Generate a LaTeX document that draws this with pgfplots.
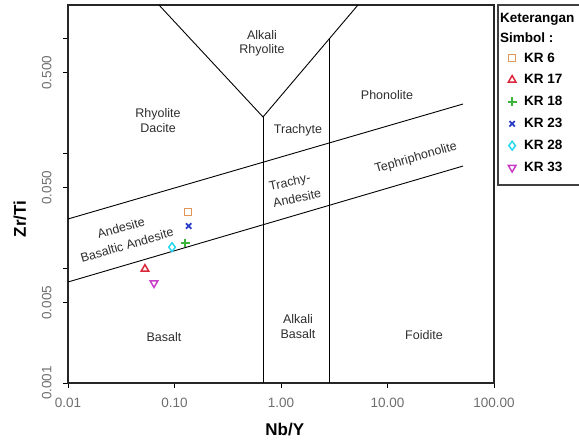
\documentclass[border=0pt]{standalone}
\usepackage{fontspec}
\setmainfont{Liberation Sans}
\usepackage{pgfplots}
\pgfplotsset{compat=1.18}
\definecolor{cKRa}{RGB}{222,150,90}
\definecolor{cKRb}{RGB}{220,40,60}
\definecolor{cKRc}{RGB}{60,180,60}
\definecolor{cKRd}{RGB}{40,60,200}
\definecolor{cKRe}{RGB}{40,215,240}
\definecolor{cKRf}{RGB}{200,60,200}
\definecolor{tickgray}{RGB}{110,110,110}
\definecolor{labgray}{RGB}{45,45,45}
\begin{document}
\begin{tikzpicture}
\begin{axis}[
  scale only axis, width=426pt, height=378pt,
  xmode=log, ymode=log,
  xmin=0.01, xmax=100, ymin=0.001, ymax=1.94,
  xminorticks=false, yminorticks=false,
  xtick={0.01,0.1,1,10,100},
  xticklabels={0.01,0.10,1.00,10.00,100.00},
  ytick={0.001,0.005,0.01,0.05,0.1,0.5,1},
  yticklabels={0.001,0.005,,0.050,,0.500,},
  tick align=outside, xtick pos=bottom, ytick pos=left,
  major tick length=5pt,
  tick style={line width=0.8pt, black},
  axis line style={line width=2pt, black!85},
  /pgf/number format/assume math mode=true,
  tick label style={font=\fontsize{13.5}{16}\selectfont, text=tickgray},
  yticklabel style={rotate=90, anchor=south},
  xticklabel shift=7pt, yticklabel shift=8pt,
  xlabel={\textbf{Nb/Y}}, ylabel={\textbf{Zr/Ti}},
  label style={font=\fontsize{17}{20}\selectfont},
  xlabel style={at={(0.509,-0.122)}, anchor=center},
  ylabel style={at={(-0.113,0.434)}, anchor=center},
  clip=false,
  legend style={at={(1.021,0.885)}, anchor=north west, draw=none, fill=none,
    font=\fontsize{13.5}{16}\selectfont\bfseries, row sep=7pt},
  legend cell align=left,
  legend image code/.code={\path[draw=none,fill=none] (-6pt,-6pt) rectangle (10pt,6pt);
    \draw[mark repeat=1,#1] plot coordinates {(0pt,0pt)};},
]
% classification boundaries
\addplot[forget plot, black, line width=0.9pt] coordinates {(0.678,0.001) (0.678,0.206)};
\addplot[forget plot, black, line width=0.9pt] coordinates {(0.0715,1.94) (0.678,0.206) (5.28,1.94)};
\addplot[forget plot, black, line width=0.9pt] coordinates {(2.88,0.001) (2.88,1.0)};
\addplot[forget plot, black, line width=0.9pt] coordinates {(0.01,0.0267) (51.2,0.267)};
\addplot[forget plot, black, line width=0.9pt] coordinates {(0.01,0.00756) (51.2,0.0771)};
% samples
\addplot[only marks, mark=square, mark size=3.6pt, color=cKRa, mark options={line width=1.5pt}] coordinates {(0.134,0.0307)};
\addlegendentry{KR 6}
\addplot[only marks, mark=triangle, mark size=4.4pt, color=cKRb, mark options={line width=1.5pt}] coordinates {(0.0528,0.0098)};
\addlegendentry{KR 17}
\addplot[only marks, mark=+, mark size=4.4pt, color=cKRc, mark options={line width=1.6pt}] coordinates {(0.126,0.0165)};
\addlegendentry{KR 18}
\addplot[only marks, mark=x, mark size=3.8pt, color=cKRd, mark options={line width=1.8pt}] coordinates {(0.136,0.0232)};
\addlegendentry{KR 23}
\addplot[only marks, mark=diamond, mark size=4.4pt, color=cKRe, mark options={line width=1.5pt}] coordinates {(0.0948,0.0152)};
\addlegendentry{KR 28}
\addplot[only marks, mark=triangle, mark size=4.4pt, color=cKRf, mark options={rotate=180, line width=1.5pt}] coordinates {(0.0642,0.0074)};
\addlegendentry{KR 33}
\end{axis}
\begin{scope}[shift={(-68pt,-58pt)}, x=1pt, y=1pt,
  every node/.style={font=\fontsize{12.5}{14.5}\selectfont, text=labgray, align=center, inner sep=0pt}]
\node at (262,406) {Alkali};
\node at (262,391) {Rhyolite};
\node at (158,327) {Rhyolite};
\node at (158,313) {Dacite};
\node at (298,311) {Trachyte};
\node at (387,346) {Phonolite};
\node[rotate=12] at (290,258) {Trachy-};
\node[rotate=12] at (297,243) {Andesite};
\node[rotate=16] at (121,213) {Andesite};
\node[rotate=16] at (127,196) {Basaltic Andesite};
\node[rotate=16] at (416,283) {Tephriphonolite};
\node at (164,104) {Basalt};
\node at (298,122) {Alkali};
\node at (298,107) {Basalt};
\node at (424,106) {Foidite};
\draw[line width=1.3pt, black!75] (498,436) rectangle (640,256);
\node[anchor=west, text=black, font=\fontsize{13.5}{16}\selectfont\bfseries] at (500,422) {Keterangan};
\node[anchor=west, text=black, font=\fontsize{13.5}{16}\selectfont\bfseries] at (500,403) {Simbol :};
\pgfresetboundingbox
\path (0,0) rectangle (579,441);
\end{scope}
\end{tikzpicture}
\end{document}
